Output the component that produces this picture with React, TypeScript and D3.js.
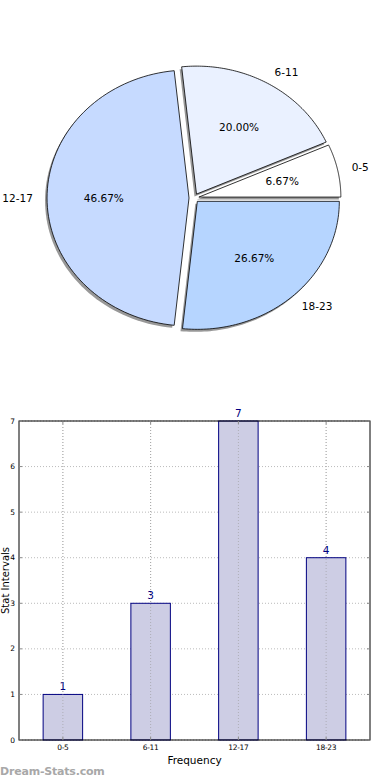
import React from 'react';
import * as d3 from 'd3';

// age groups and how many fall into each
const groups = ['0-5', '6-11', '12-17', '18-23'];
const counts = [1, 3, 7, 4];
const sliceColors = ['#ffffff', '#eaf1ff', '#c6daff', '#b6d5ff'];
const yTicks = [0, 1, 2, 3, 4, 5, 6, 7];

const W = 390;
const H = 780;

const Pie = () => {
  const cx = 194, cy = 198, rx = 142, ry = 128;
  const explode = 0.035;
  const total = d3.sum(counts);
  // matplotlib style: start at east, go counter-clockwise
  const arcs = d3.pie<number>().sort(null).startAngle(Math.PI / 2).endAngle(Math.PI / 2 - 2 * Math.PI)(counts);
  const pt = (a: number, r: number) => [rx * r * Math.sin(a), -ry * r * Math.cos(a)] as [number, number];
  const line = d3.line();

  const slicePath = (a: d3.PieArcDatum<number>) => {
    const n = 80;
    const pts: [number, number][] = [[0, 0]];
    d3.range(n + 1).forEach(k => {
      const ang = a.startAngle + (a.endAngle - a.startAngle) * k / n;
      pts.push(pt(ang, 1));
    });
    return line(pts) + 'Z';
  };

  return (
    <g>
      <defs>
        <filter id="blur" x="-10%" y="-10%" width="120%" height="120%">
          <feGaussianBlur stdDeviation="0.7" />
        </filter>
      </defs>
      {arcs.map((a, i) => {
        const mid = (a.startAngle + a.endAngle) / 2;
        const [ox, oy] = pt(mid, explode);
        return (
          <g key={'s' + i} transform={`translate(${cx + ox},${cy + oy})`}>
            <path d={slicePath(a)} transform="translate(-2,2.5)" fill="#7f7f7f" opacity={0.8} filter="url(#blur)" />
          </g>
        );
      })}
      {arcs.map((a, i) => {
        const mid = (a.startAngle + a.endAngle) / 2;
        const [ox, oy] = pt(mid, explode);
        const [lx, ly] = pt(mid, 1.1);
        const [px, py] = pt(mid, 0.6);
        return (
          <g key={i} transform={`translate(${cx + ox},${cy + oy})`}>
            <path d={slicePath(a)} fill={sliceColors[i]} stroke="#000" strokeWidth={0.8} strokeLinejoin="round" />
            <text x={px} y={py} dy="0.35em" textAnchor="middle" fontSize={10.5}>
              {(counts[i] / total * 100).toFixed(2)}%
            </text>
            <text x={lx} y={ly} dy="0.35em" textAnchor={lx >= 0 ? 'start' : 'end'} fontSize={10.5}>
              {groups[i]}
            </text>
          </g>
        );
      })}
    </g>
  );
};

const Bars = () => {
  const left = 19, right = 370, top = 421, bottom = 740;
  const x = d3.scaleLinear().domain([-0.5, groups.length - 0.5]).range([left, right]);
  const y = d3.scaleLinear().domain([0, 7]).range([bottom, top]);
  const bw = x(0.45) - x(0);

  return (
    <g>
      {yTicks.map(t => (
        <line key={'gy' + t} x1={left} x2={right} y1={y(t)} y2={y(t)} stroke="#bbb" strokeWidth={1} strokeDasharray="1,2" />
      ))}
      {groups.map((g, i) => (
        <line key={'gx' + g} x1={x(i)} x2={x(i)} y1={top} y2={bottom} stroke="#bbb" strokeWidth={1} strokeDasharray="1,2" />
      ))}
      {counts.map((c, i) => (
        <g key={'b' + i}>
          <rect x={x(i) - bw / 2} y={y(c)} width={bw} height={bottom - y(c)} fill="#cdcde4"
            stroke="#000080" strokeWidth={1} />
          <text x={x(i)} y={y(c) - 4} textAnchor="middle" fontSize={10.5} fill="#000080">{c}</text>
        </g>
      ))}
      {groups.map((g, i) => (
        <line key={'gx2' + g} x1={x(i)} x2={x(i)} y1={top} y2={bottom} stroke="#999" strokeWidth={1} strokeDasharray="1,2" opacity={0.6} />
      ))}
      <rect x={left} y={top} width={right - left} height={bottom - top} fill="none" stroke="#000" strokeWidth={1} />
      {yTicks.map(t => (
        <g key={'ty' + t}>
          <line x1={left} x2={left + 3} y1={y(t)} y2={y(t)} stroke="#888" />
          <line x1={right - 3} x2={right} y1={y(t)} y2={y(t)} stroke="#888" />
          <text x={left - 4} y={y(t)} dy="0.35em" textAnchor="end" fontSize={7.5}>{t}</text>
        </g>
      ))}
      {groups.map((g, i) => (
        <g key={'tx' + g}>
          <line x1={x(i)} x2={x(i)} y1={bottom} y2={bottom - 3} stroke="#888" />
          <line x1={x(i)} x2={x(i)} y1={top} y2={top + 3} stroke="#888" />
          <text x={x(i)} y={bottom + 10} textAnchor="middle" fontSize={7.5} letterSpacing={-0.3}>{g}</text>
        </g>
      ))}
      <text x={(left + right) / 2} y={764} textAnchor="middle" fontSize={10.5}>Frequency</text>
      <text transform={`translate(9,${(top + bottom) / 2}) rotate(-90)`} textAnchor="middle" fontSize={10}>Stat Intervals</text>
      <text x={0} y={775} fontSize={11} fontWeight="bold" fill="#a8a8a8" letterSpacing={-0.2}>Dream-Stats.com</text>
    </g>
  );
};

export default function App() {
  return (
    <svg width={W} height={H} viewBox={`0 0 ${W} ${H}`}
      style={{ position: 'absolute', left: 0, top: 0, fontFamily: 'DejaVu Sans, sans-serif', background: '#fff' }}>
      <Pie />
      <Bars />
    </svg>
  );
}
